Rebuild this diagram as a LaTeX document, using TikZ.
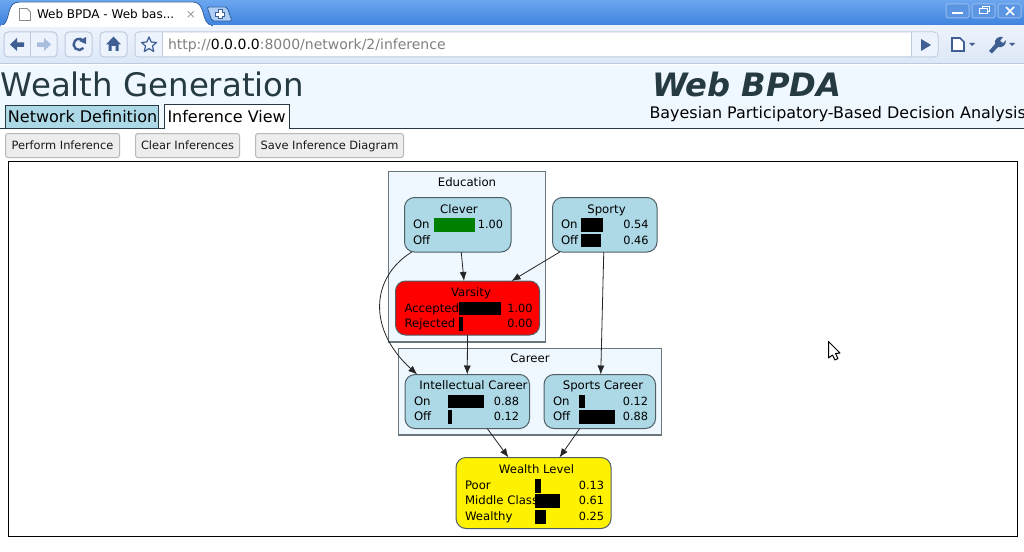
\documentclass[tikz,border=0pt]{standalone}
\usepackage{fontspec}
\setmainfont{DejaVu Sans}
\usetikzlibrary{arrows.meta,calc}
\definecolor{alice}{HTML}{F0F8FF}
\definecolor{lblue}{HTML}{ADD8E6}
\definecolor{edgeg}{HTML}{4F5F66}
\definecolor{headc}{HTML}{263A42}
\definecolor{chrometop}{HTML}{6BA6EF}
\definecolor{chromebot}{HTML}{3F83DE}
\definecolor{chromeline}{HTML}{2F5F9F}
\definecolor{tbtop}{HTML}{EDF3FC}
\definecolor{tbbot}{HTML}{DCE7F7}
\definecolor{tbedge}{HTML}{BCC9DE}
\definecolor{iconc}{HTML}{3F5F93}
\definecolor{icong}{HTML}{A9BEDD}
\definecolor{urlg}{HTML}{808080}
\newcommand\fs[1]{\fontsize{#1}{#1}\selectfont}
\tikzset{
 x=1pt,y=-1pt,
 txt/.style={inner sep=0pt,outer sep=0pt,text height=0pt,text depth=0pt,font=\fs{11.7},text=black},
 lw/.style={txt,anchor=base west},
 le/.style={txt,anchor=base east,font=\fs{11.3}},
 lm/.style={txt,anchor=base},
 group/.style={draw=edgeg!85!white,fill=alice,line width=1.1pt},
 rbox/.style={draw=edgeg,line width=1pt,rounded corners=10pt},
 bn/.style={rectangle,rbox,inner sep=0pt,outer sep=0pt,minimum width=#1},
 bar/.style={fill=black,draw=none},
 conn/.style={draw=black!85,line width=.8pt,-{Latex[length=9pt,width=7pt]}},
 btn/.style={draw=black!28,fill=black!7,line width=1pt,rounded corners=2.5pt},
 btnt/.style={txt,anchor=base,font=\fs{11.4},text=black!90},
 tool/.style={draw=tbedge,fill=tbtop,line width=1pt,rounded corners=4pt},
 winb/.style={draw=white!45!chromebot,fill=chromebot!85!white,line width=1pt,rounded corners=1.5pt},
}
\begin{document}
\begin{tikzpicture}
\useasboundingbox (0,0) rectangle (1024,551);
\fill[white] (0,0) rectangle (1024,551);
% browser chrome
\shade[top color=chrometop,bottom color=chromebot] (0,0) rectangle (1024,25);
\fill[chromeline] (0,25) rectangle (1024,26);
\shade[top color=tbtop,bottom color=tbbot] (0,26) rectangle (1024,63);
\fill[tbedge] (0,63) rectangle (1024,64);
\draw[draw=chromeline,fill=white,line width=.8pt] (0,26) .. controls (6,25) and (7,20) .. (9,12) .. controls (11,5) and (13,2) .. (20,2) -- (193,2) .. controls (199,2) and (201,6) .. (203,12) .. controls (205,20) and (206,24) .. (213,26);
\fill[white] (1,25) rectangle (211,27);
\path[draw=chromeline,fill=chrometop!55!white,line width=.8pt,rounded corners=2pt] (207,7) -- (227,7) -- (232,21) -- (212,21) -- cycle;
\draw[draw=iconc,fill=white,line width=.7pt] (218,9.5) -- (222,9.5) -- (222,12) -- (224.5,12) -- (224.5,16) -- (222,16) -- (222,18.5) -- (218,18.5) -- (218,16) -- (215.5,16) -- (215.5,12) -- (218,12) -- cycle;
\draw[draw=black!45,fill=white,line width=.8pt] (19.5,8.5) -- (27,8.5) -- (30.5,12) -- (30.5,20.5) -- (19.5,20.5) -- cycle;
\node[lw,font=\fs{12}] (tabtitle) at (37,19) {Web BPDA - Web bas...};
\node[lm,text=black!40,font=\fs{12}] (tabclose) at (191,18.5) {×};
% window buttons
\draw[winb] (946,4) rectangle (969,18);
\draw[winb] (972,4) rectangle (995,18);
\draw[winb] (998,4) rectangle (1021,18);
\fill[white] (952,12) rectangle (963,14);
\draw[white,line width=1pt] (979.5,8.5) rectangle (987,14) (982,8.5) -- (982,6.5) -- (989,6.5) -- (989,11.5) -- (987,11.5);
\draw[white,line width=1.6pt] (1006,7) -- (1014,15) (1014,7) -- (1006,15);
% toolbar
\draw[tool] (4,32) rectangle (57,57);
\draw[tbedge] (30.5,32) -- (30.5,57);
\fill[iconc] (10,44.5) -- (17,38) -- (17,42.5) -- (24,42.5) -- (24,47) -- (17,47) -- (17,51) -- cycle;
\fill[icong] (51,44.5) -- (44,38) -- (44,42.5) -- (37,42.5) -- (37,47) -- (44,47) -- (44,51) -- cycle;
\draw[tool] (65,32) rectangle (92,57);
\draw[iconc,line width=2.4pt] (83.5,48) arc[start angle=40,end angle=320,radius=5.6];
\fill[iconc] (79,41) -- (86,37) -- (86,44) -- cycle;
\draw[tool] (100,32) rectangle (127,57);
\fill[iconc] (113.5,36.5) -- (121,44.5) -- (118.5,44.5) -- (118.5,51) -- (115.5,51) -- (115.5,46) -- (111.5,46) -- (111.5,51) -- (108.5,51) -- (108.5,44.5) -- (106,44.5) -- cycle;
\draw[tool,fill=white] (135,32) rectangle (938,57);
\fill[tbtop] (136,33) rectangle (162,56);
\draw[tbedge] (162.5,32) -- (162.5,57);
\draw[tbedge] (911.5,32) -- (911.5,57);
\fill[tbtop] (912,33) rectangle (937,56);
\draw[iconc,line width=1.2pt,line join=round] (149,37) -- (151.2,42) -- (156.5,42.5) -- (152.5,46) -- (153.7,51.5) -- (149,48.6) -- (144.3,51.5) -- (145.5,46) -- (141.5,42.5) -- (146.8,42) -- cycle;
\node[lw,font=\fs{14}] (url) at (168,49) {\textcolor{urlg}{http://}\textcolor{black}{0.0.0.0}\textcolor{urlg}{:8000/network/2/inference}};
\fill[iconc] (921,39) -- (931,45) -- (921,51) -- cycle;
\draw[iconc,fill=white,line width=1.6pt] (952,38) -- (960,38) -- (964,42) -- (964,51) -- (952,51) -- cycle;
\fill[iconc] (969,43) -- (975,43) -- (972,46) -- cycle;
\fill[iconc] (989,51) -- (995,44) .. controls (994,39) and (998,36) .. (1003,37) -- (1000,41) -- (1003,43) -- (1006,40) .. controls (1006,45) and (1003,48) .. (998,47) -- (992,53.5) -- cycle;
\fill[iconc] (1009,43) -- (1015,43) -- (1012,46) -- cycle;
% page header
\fill[alice] (0,65) rectangle (1024,128);
\fill[headc] (0,128) rectangle (1024,129);
\node[lw,font=\fs{32.4},text=headc] (title) at (1,96) {Wealth Generation};
\node[lw,font=\bfseries\itshape\fs{32.2},text=headc] (brand) at (652,96) {Web BPDA};
\node[lw,font=\fs{15.95}] (subtitle) at (649.5,118) {Bayesian Participatory-Based Decision Analysis};
\draw[draw=headc,fill=lblue,line width=1pt] (5.5,105.5) rectangle (158.5,128.5);
\node[lw,font=\fs{16}] (tabnet) at (8,122) {Network Definition};
\draw[draw=headc,fill=white,line width=1pt] (164.5,129) -- (164.5,104.5) -- (289.5,104.5) -- (289.5,129);
\fill[white] (165,128) rectangle (289,130);
\node[lw,font=\fs{16}] (tabinf) at (167.5,122) {Inference View};
% buttons
\draw[btn] (5.5,133.5) rectangle (119.5,157.5);
\node[btnt] (b1) at (62.5,149) {Perform Inference};
\draw[btn] (135.5,133.5) rectangle (239.5,157.5);
\node[btnt] (b2) at (187.5,149) {Clear Inferences};
\draw[btn] (255.5,133.5) rectangle (403.5,157.5);
\node[btnt] (b3) at (329.5,149) {Save Inference Diagram};
% canvas
\draw[black,line width=1pt] (8.5,161.5) rectangle (1017,536.5);
% groups
\node[group,rectangle,minimum width=157pt,minimum height=170.5pt,inner sep=0pt,outer sep=0pt] (education) at (467,256.75) {};
\node[group,rectangle,minimum width=263pt,minimum height=86.5pt,inner sep=0pt,outer sep=0pt] (career) at (530,391.75) {};
% BN nodes
\node[bn=106.5pt,minimum height=54.5pt,fill=lblue] (clever) at (457.75,224.75) {};
\node[bn=104.5pt,minimum height=54.5pt,fill=lblue] (sporty) at (604.75,224.75) {};
\node[bn=144pt,minimum height=54pt,fill=red] (varsity) at (467.5,308) {};
\node[bn=124.5pt,minimum height=54pt,fill=lblue] (intel) at (467.25,401.5) {};
\node[bn=111.5pt,minimum height=54pt,fill=lblue] (sports) at (599.75,401.5) {};
\node[bn=155pt,minimum height=71pt,fill=yellow] (wealth) at (533.5,493) {};
% connectors
\draw[conn] ($(clever.south)+(3.5,0)$) -- ($(varsity.north)+(-3.5,0)$);
\draw[conn] ($(sporty.south)+(-45,0)$) -- ($(varsity.north)+(44,0)$);
\draw[conn] ($(clever.south)+(-46,0)$) .. controls (370,278) and (368,330) .. ($(intel.north)+(-50,0)$);
\draw[conn] ($(varsity.south)+(0,0)$) -- ($(intel.north)+(0,0)$);
\draw[conn] ($(sporty.south)+(-1,0)$) -- ($(sports.north)+(1,0)$);
\draw[conn] ($(intel.south)+(20,0)$) -- ($(wealth.north)+(-25,0)$);
\draw[conn] ($(sports.south)+(-20,0)$) -- ($(wealth.north)+(26,0)$);
% group titles
\node[lm] (tedu) at (467,186) {Education};
\node[lm] (tcar) at (530,362) {Career};
% Clever
\node[lm] (t1) at (459,213) {Clever};
\node[lw] (t1a) at (413,228) {On};
\node[lw] (t1b) at (413,244) {Off};
\fill[green!50!black] (433.5,218) rectangle (475,232);
\node[le] (v1a) at (503,228) {1.00};
% Sporty
\node[lm] (t2) at (606.5,213) {Sporty};
\node[lw] (t2a) at (561,228) {On};
\node[lw] (t2b) at (561,244) {Off};
\fill[bar] (581,218) rectangle (603,232);
\fill[bar] (581,234) rectangle (601,247);
\node[le] (v2a) at (648.5,228) {0.54};
\node[le] (v2b) at (648.5,244) {0.46};
% Varsity
\node[lm] (t3) at (471,296) {Varsity};
\node[lw] (t3a) at (404.5,312) {Accepted};
\node[lw] (t3b) at (404.5,327) {Rejected};
\fill[bar] (459,301.5) rectangle (500.5,315);
\fill[bar] (459,317) rectangle (463,331);
\node[le] (v3a) at (532.5,312) {1.00};
\node[le] (v3b) at (532.5,327) {0.00};
% Intellectual
\node[lm] (t4) at (473.5,389) {Intellectual Career};
\node[lw] (t4a) at (414,405) {On};
\node[lw] (t4b) at (414,420) {Off};
\fill[bar] (447.5,394.5) rectangle (484,408);
\fill[bar] (447.5,410) rectangle (452,424);
\node[le] (v4a) at (519,405) {0.88};
\node[le] (v4b) at (519,420) {0.12};
% Sports
\node[lm] (t5) at (603,389) {Sports Career};
\node[lw] (t5a) at (553,405) {On};
\node[lw] (t5b) at (553,420) {Off};
\fill[bar] (579,394.5) rectangle (585,408);
\fill[bar] (579,410) rectangle (615,424);
\node[le] (v5a) at (648,405) {0.12};
\node[le] (v5b) at (648,420) {0.88};
% Wealth
\node[lm] (t6) at (536.5,473) {Wealth Level};
\node[lw] (t6a) at (465,489) {Poor};
\node[lw] (t6b) at (465,504) {Middle Class};
\node[lw] (t6c) at (465,520) {Wealthy};
\fill[bar] (535,479) rectangle (541,493);
\fill[bar] (535,494) rectangle (560,508);
\fill[bar] (535,510) rectangle (545.5,524);
\node[le] (v6a) at (604,489) {0.13};
\node[le] (v6b) at (604,504) {0.61};
\node[le] (v6c) at (604,520) {0.25};
% cursor
\draw[black,fill=white,line width=1pt,line join=round] (828.5,341.5) -- (828.5,358) -- (832.5,355) -- (835,360) -- (838,358.5) -- (835.5,353.5) -- (840,353) -- cycle;
\end{tikzpicture}
\end{document}
